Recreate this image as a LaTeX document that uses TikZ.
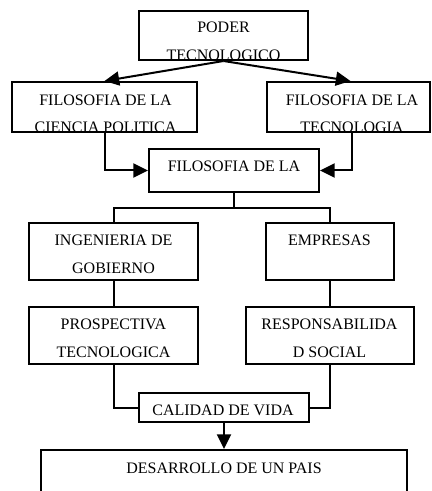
\documentclass[tikz,border=0pt]{standalone}
\usepackage{fontspec}
\setmainfont{Liberation Serif}
\usetikzlibrary{arrows.meta}

\tikzset{
  box/.style={draw, line width=1.5pt, inner sep=0pt},
  lbl/.style={anchor=base, inner sep=0pt, font=\fontsize{12}{14}\selectfont},
  link/.style={line width=1.5pt},
  arr/.style={link, -{Triangle[length=11pt, width=10.5pt]}},
}

\begin{document}
\begin{tikzpicture}[x=0.75pt, y=-0.75pt]
\useasboundingbox (0,0) rectangle (431,491);

% Top box
\node[box, minimum width=126.75pt, minimum height=36.75pt] (poder) at (223.5,35.5) {};
\begin{scope}
\clip ([yshift=2pt]poder.south west) rectangle (poder.north east);
\node[lbl] (poder1) at (223.5,32.5) {PODER};
\node[lbl] (poder2) at (223.5,60.6) {TECNOLOGICO};
\end{scope}

% Second row
\node[box, minimum width=138.75pt, minimum height=37.5pt] (filcp) at (104.5,107) {};
\begin{scope}
\clip ([yshift=1.5pt]filcp.south west) rectangle (filcp.north east);
\node[lbl] (filcp1) at (105.5,106) {FILOSOFIA DE LA};
\node[lbl] (filcp2) at (105.5,132.5) {CIENCIA POLITICA};
\end{scope}
\node[box, minimum width=122.25pt, minimum height=37.5pt] (filtec) at (348.5,107) {};
\begin{scope}
\clip ([yshift=1.5pt]filtec.south west) rectangle (filtec.north east);
\node[lbl] (filtec1) at (352,106) {FILOSOFIA DE LA};
\node[lbl] (filtec2) at (352,132.5) {TECNOLOGIA};
\end{scope}

% Middle box
\node[box, minimum width=127.5pt, minimum height=32.25pt] (filmid) at (234,170.5) {};
\node[lbl] (filmid1) at (234,172) {FILOSOFIA DE LA};

% Third row
\node[box, minimum width=126.75pt, minimum height=42.75pt] (ing) at (113.5,251.5) {};
\node[lbl] (ing1) at (113.5,245) {INGENIERIA DE};
\node[lbl] (ing2) at (113.5,273) {GOBIERNO};
\node[box, minimum width=96pt, minimum height=42.75pt] (emp) at (330,251.5) {};
\node[lbl] (emp1) at (329.5,245) {EMPRESAS};

% Fourth row
\node[box, minimum width=126.75pt, minimum height=42.75pt] (prosp) at (113.5,335.5) {};
\node[lbl] (prosp1) at (113.5,329) {PROSPECTIVA};
\node[lbl] (prosp2) at (113.5,357) {TECNOLOGICA};
\node[box, minimum width=126pt, minimum height=42.75pt] (resp) at (330,335.5) {};
\node[lbl] (resp1) at (329.5,329) {RESPONSABILIDA};
\node[lbl] (resp2) at (329.5,357) {D SOCIAL};

% Bottom
\node[box, minimum width=127.5pt, minimum height=21.75pt] (cal) at (224,407.5) {};
\node[lbl] (cal1) at (223,415) {CALIDAD DE VIDA};
\node[box, minimum width=274.5pt, minimum height=37.5pt] (des) at (224,475) {};
\node[lbl] (des1) at (224,473) {DESARROLLO DE UN PAIS};

% Connectors
\draw[arr] (poder.south) -- (filcp.north);
\draw[arr] (poder.south) -- ([xshift=1.5pt]filtec.north);
\draw[arr] (filcp.south) |- (filmid.west);
\draw[arr] ([xshift=2.6pt]filtec.south) |- (filmid.east);
\coordinate (split) at (234,208);
\draw[link] (filmid.south) -- (split);
\draw[link] (ing.north) |- (split) -| (emp.north);
\draw[link] (ing.south) -- (prosp.north);
\draw[link] (emp.south) -- (resp.north);
\draw[link] (prosp.south) |- (cal.west);
\draw[link] (resp.south) |- (cal.east);
\draw[arr] (cal.south) -- (des.north);
\end{tikzpicture}
\end{document}
